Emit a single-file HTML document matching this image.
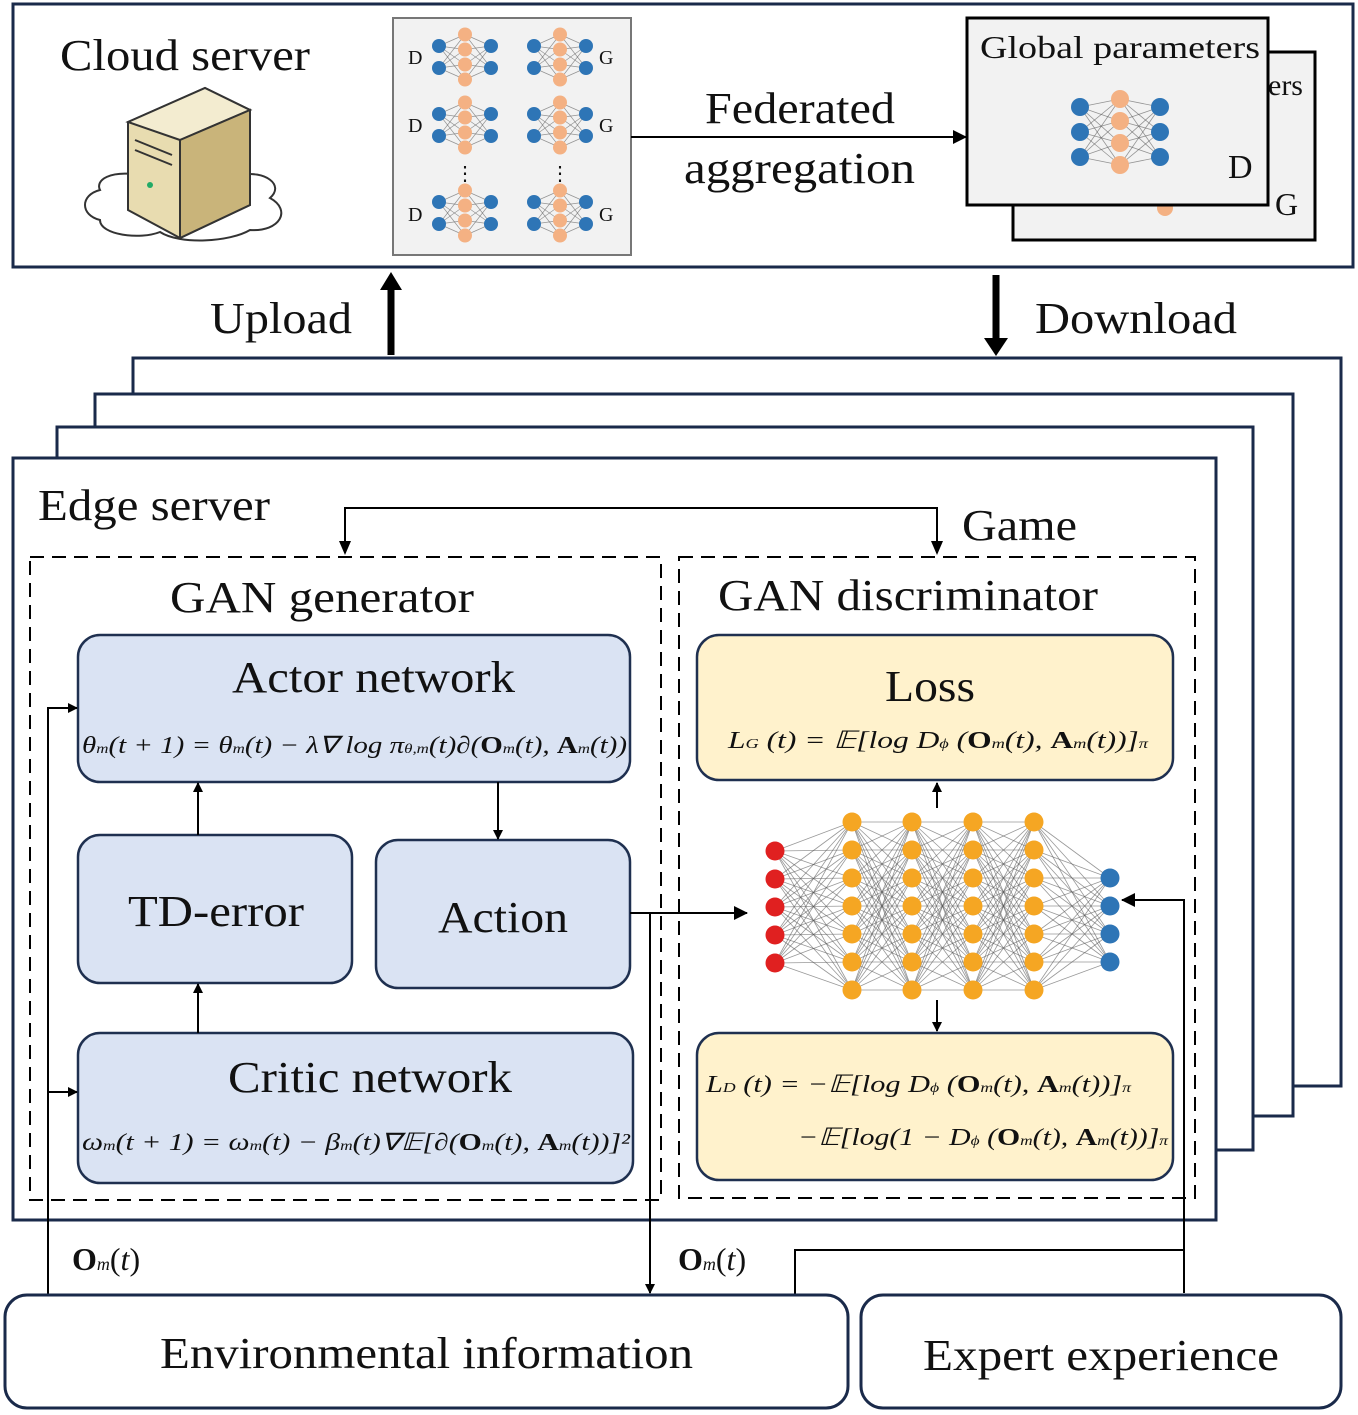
<!DOCTYPE html>
<html><head><meta charset="utf-8"><style>
html,body{margin:0;padding:0;background:#fff}
svg{display:block}
text{font-family:"Liberation Serif",serif;fill:#111}
</style></head><body>
<svg id="s" width="1358" height="1415" viewBox="0 0 1358 1415" xmlns="http://www.w3.org/2000/svg">
<defs>
<marker id="a" markerWidth="10" markerHeight="10" refX="9" refY="5" orient="auto" markerUnits="userSpaceOnUse"><path d="M0,0 L10,5 L0,10 z" fill="#000"/></marker>
<marker id="b" markerWidth="14" markerHeight="14" refX="13" refY="7" orient="auto" markerUnits="userSpaceOnUse"><path d="M0,0 L14,7 L0,14 z" fill="#000"/></marker>
</defs>
<rect x="13" y="4" width="1340" height="263" fill="#fff" stroke="#1a2a4a" stroke-width="3"/>
<text x="60" y="70" font-size="44" textLength="250" lengthAdjust="spacingAndGlyphs">Cloud server</text>
<path d="M100,190 C80,195 80,215 100,220 C100,235 140,240 160,232 C180,245 230,242 250,230 C280,232 292,210 270,198 C285,185 265,170 240,175 L140,175 C110,170 95,180 100,190 z" fill="#fff" stroke="#333" stroke-width="2"/>
<path d="M128,122 L205,88 L250,110 L250,205 L180,238 L128,210 z" fill="#e8dcb0" stroke="#333" stroke-width="2"/>
<path d="M128,122 L205,88 L250,110 L180,140 z" fill="#f3ecd0" stroke="#333" stroke-width="2"/>
<path d="M180,140 L250,110 L250,205 L180,238z" fill="#c9b47a" stroke="#333" stroke-width="2"/>
<circle cx="150" cy="185" r="3" fill="#2a6"/>
<line x1="135" y1="140" x2="172" y2="155" stroke="#333" stroke-width="2"/>
<line x1="135" y1="150" x2="172" y2="165" stroke="#333" stroke-width="2"/>
<rect x="393" y="18" width="238" height="237" fill="#f2f2f2" stroke="#777" stroke-width="2"/>
<g id="small"></g>
<text x="408" y="64" font-size="20">D</text><text x="408" y="132" font-size="20">D</text><text x="408" y="221" font-size="20">D</text>
<text x="599" y="64" font-size="20">G</text><text x="599" y="132" font-size="20">G</text><text x="599" y="221" font-size="20">G</text>
<text x="465" y="180" font-size="20" text-anchor="middle">⋮</text><text x="560" y="180" font-size="20" text-anchor="middle">⋮</text>
<line x1="631" y1="137" x2="966" y2="137" stroke="#000" stroke-width="2" marker-end="url(#b)"/>
<text x="705" y="123" font-size="44" textLength="190" lengthAdjust="spacingAndGlyphs">Federated</text>
<text x="684" y="183" font-size="44" textLength="231" lengthAdjust="spacingAndGlyphs">aggregation</text>
<rect x="1013" y="52" width="302" height="188" fill="#f2f2f2" stroke="#000" stroke-width="3"/>
<text x="1268" y="95" font-size="30">ers</text>
<text x="1275" y="215" font-size="32">G</text>
<circle cx="1165" cy="208" r="8" fill="#f4b183"/>
<rect x="967" y="18" width="301" height="187" fill="#f2f2f2" stroke="#000" stroke-width="3"/>
<text x="980" y="58" font-size="32" textLength="280" lengthAdjust="spacingAndGlyphs">Global parameters</text>
<text x="1228" y="178" font-size="34">D</text>
<g id="glob"></g>
<text x="210" y="333" font-size="44" textLength="142" lengthAdjust="spacingAndGlyphs">Upload</text>
<line x1="391" y1="355" x2="391" y2="282" stroke="#000" stroke-width="7"/>
<path d="M380,290 L391,272 L402,290z" fill="#000"/>
<line x1="996" y1="275" x2="996" y2="345" stroke="#000" stroke-width="7"/>
<path d="M984,338 L996,356 L1008,338z" fill="#000"/>
<text x="1035" y="333" font-size="44" textLength="202" lengthAdjust="spacingAndGlyphs">Download</text>
<rect x="133" y="358" width="1208" height="728" fill="#fff" stroke="#1a2a4a" stroke-width="3"/>
<rect x="95" y="394" width="1198" height="722" fill="#fff" stroke="#1a2a4a" stroke-width="3"/>
<rect x="57" y="427" width="1196" height="723" fill="#fff" stroke="#1a2a4a" stroke-width="3"/>
<rect x="13" y="458" width="1203" height="762" fill="#fff" stroke="#1a2a4a" stroke-width="3"/>
<text x="38" y="520" font-size="44" textLength="232" lengthAdjust="spacingAndGlyphs">Edge server</text>
<polyline points="345,553 345,508 937,508 937,553" fill="none" stroke="#000" stroke-width="2"/>
<path d="M339,541 L345,555 L351,541z M931,541 L937,555 L943,541z" fill="#000"/>
<text x="962" y="540" font-size="44" textLength="115" lengthAdjust="spacingAndGlyphs">Game</text>
<rect x="30" y="557" width="631" height="643" fill="none" stroke="#000" stroke-width="2" stroke-dasharray="14,8"/>
<rect x="679" y="557" width="516" height="641" fill="none" stroke="#000" stroke-width="2" stroke-dasharray="14,8"/>
<text x="170" y="612" font-size="44" textLength="304" lengthAdjust="spacingAndGlyphs">GAN generator</text>
<text x="718" y="610" font-size="44" textLength="380" lengthAdjust="spacingAndGlyphs">GAN discriminator</text>
<rect x="78" y="635" width="552" height="147" rx="22" fill="#dae3f3" stroke="#1f3050" stroke-width="2.5"/>
<text x="232" y="692" font-size="44" textLength="283" lengthAdjust="spacingAndGlyphs">Actor network</text>
<text x="82" y="753" font-size="24" font-style="italic" textLength="545" lengthAdjust="spacingAndGlyphs">θ<tspan font-size="14">m</tspan>(t + 1) = θ<tspan font-size="14">m</tspan>(t) − λ∇ log π<tspan font-size="14">θ,m</tspan>(t)∂(<tspan font-weight="bold" font-style="normal">O</tspan><tspan font-size="14">m</tspan>(t), <tspan font-weight="bold" font-style="normal">A</tspan><tspan font-size="14">m</tspan>(t))</text>
<rect x="78" y="835" width="274" height="148" rx="22" fill="#dae3f3" stroke="#1f3050" stroke-width="2.5"/>
<text x="128" y="926" font-size="44" textLength="176" lengthAdjust="spacingAndGlyphs">TD-error</text>
<rect x="376" y="840" width="254" height="148" rx="22" fill="#dae3f3" stroke="#1f3050" stroke-width="2.5"/>
<text x="438" y="932" font-size="44" textLength="130" lengthAdjust="spacingAndGlyphs">Action</text>
<rect x="78" y="1033" width="555" height="150" rx="22" fill="#dae3f3" stroke="#1f3050" stroke-width="2.5"/>
<text x="228" y="1092" font-size="44" textLength="284" lengthAdjust="spacingAndGlyphs">Critic network</text>
<text x="82" y="1150" font-size="24" font-style="italic" textLength="548" lengthAdjust="spacingAndGlyphs">ω<tspan font-size="14">m</tspan>(t + 1) = ω<tspan font-size="14">m</tspan>(t) − β<tspan font-size="14">m</tspan>(t)∇𝔼[∂(<tspan font-weight="bold" font-style="normal">O</tspan><tspan font-size="14">m</tspan>(t), <tspan font-weight="bold" font-style="normal">A</tspan><tspan font-size="14">m</tspan>(t))]²</text>
<line x1="198" y1="835" x2="198" y2="783" stroke="#000" stroke-width="2" marker-end="url(#a)"/>
<line x1="198" y1="1033" x2="198" y2="984" stroke="#000" stroke-width="2" marker-end="url(#a)"/>
<line x1="498" y1="782" x2="498" y2="839" stroke="#000" stroke-width="2" marker-end="url(#a)"/>
<polyline points="48,1295 48,708 77,708" fill="none" stroke="#000" stroke-width="2" marker-end="url(#a)"/>
<line x1="48" y1="1092" x2="77" y2="1092" stroke="#000" stroke-width="2" marker-end="url(#a)"/>
<line x1="630" y1="913" x2="747" y2="913" stroke="#000" stroke-width="2" marker-end="url(#b)"/>
<line x1="650" y1="913" x2="650" y2="1293" stroke="#000" stroke-width="2" marker-end="url(#a)"/>
<rect x="697" y="635" width="476" height="145" rx="22" fill="#fff2cc" stroke="#1f3050" stroke-width="2.5"/>
<text x="885" y="701" font-size="44" textLength="90" lengthAdjust="spacingAndGlyphs">Loss</text>
<text x="728" y="748" font-size="24" font-style="italic" textLength="420" lengthAdjust="spacingAndGlyphs">L<tspan font-size="14">G</tspan> (t) = 𝔼[log D<tspan font-size="14">ϕ</tspan> (<tspan font-weight="bold" font-style="normal">O</tspan><tspan font-size="14">m</tspan>(t), <tspan font-weight="bold" font-style="normal">A</tspan><tspan font-size="14">m</tspan>(t))]<tspan font-size="14">π</tspan></text>
<rect x="697" y="1033" width="476" height="147" rx="22" fill="#fff2cc" stroke="#1f3050" stroke-width="2.5"/>
<text x="706" y="1092" font-size="24" font-style="italic" textLength="425" lengthAdjust="spacingAndGlyphs">L<tspan font-size="14">D</tspan> (t) = −𝔼[log D<tspan font-size="14">ϕ</tspan> (<tspan font-weight="bold" font-style="normal">O</tspan><tspan font-size="14">m</tspan>(t), <tspan font-weight="bold" font-style="normal">A</tspan><tspan font-size="14">m</tspan>(t))]<tspan font-size="14">π</tspan></text>
<text x="798" y="1145" font-size="24" font-style="italic" textLength="370" lengthAdjust="spacingAndGlyphs">−𝔼[log(1 − D<tspan font-size="14">ϕ</tspan> (<tspan font-weight="bold" font-style="normal">O</tspan><tspan font-size="14">m</tspan>(t), <tspan font-weight="bold" font-style="normal">A</tspan><tspan font-size="14">m</tspan>(t))]<tspan font-size="14">π</tspan></text>
<line x1="937" y1="808" x2="937" y2="783" stroke="#000" stroke-width="2" marker-end="url(#a)"/>
<line x1="937" y1="1000" x2="937" y2="1031" stroke="#000" stroke-width="2" marker-end="url(#a)"/>
<g id="big"></g>
<polyline points="1184,1293 1184,900 1122,900" fill="none" stroke="#000" stroke-width="2" marker-end="url(#b)"/>
<polyline points="795,1295 795,1250 1184,1250" fill="none" stroke="#000" stroke-width="2"/>
<text x="72" y="1270" font-size="32"><tspan font-weight="bold">O</tspan><tspan font-size="18" font-style="italic">m</tspan>(<tspan font-style="italic">t</tspan>)</text>
<text x="678" y="1270" font-size="32"><tspan font-weight="bold">O</tspan><tspan font-size="18" font-style="italic">m</tspan>(<tspan font-style="italic">t</tspan>)</text>
<rect x="5" y="1295" width="843" height="113" rx="22" fill="#fff" stroke="#1a2a4a" stroke-width="3"/>
<text x="160" y="1368" font-size="44" textLength="533" lengthAdjust="spacingAndGlyphs">Environmental information</text>
<rect x="861" y="1295" width="480" height="113" rx="22" fill="#fff" stroke="#1a2a4a" stroke-width="3"/>
<text x="923" y="1370" font-size="44" textLength="356" lengthAdjust="spacingAndGlyphs">Expert experience</text>
</svg>
<script>
var NS="http://www.w3.org/2000/svg";
function net(g,layers,r,lw){
  var el=document.getElementById(g);
  for(var i=0;i<layers.length-1;i++){
    layers[i].pts.forEach(function(p){layers[i+1].pts.forEach(function(q){
      var l=document.createElementNS(NS,"line");
      l.setAttribute("x1",p[0]);l.setAttribute("y1",p[1]);l.setAttribute("x2",q[0]);l.setAttribute("y2",q[1]);
      l.setAttribute("stroke","#555");l.setAttribute("stroke-width",lw);l.setAttribute("opacity","0.6");el.appendChild(l);});});
  }
  layers.forEach(function(L){L.pts.forEach(function(p){
    var c=document.createElementNS(NS,"circle");c.setAttribute("cx",p[0]);c.setAttribute("cy",p[1]);c.setAttribute("r",r);
    c.setAttribute("fill",L.c);el.appendChild(c);});});
}
function col(x,yc,n,sp){var a=[];for(var i=0;i<n;i++)a.push([x,yc+(i-(n-1)/2)*sp]);return a;}
function smallNet(g,cx,cy){
  net(g,[{pts:col(cx-26,cy,2,22),c:"#2e75b6"},{pts:col(cx,cy,4,15),c:"#f4b183"},{pts:col(cx+26,cy,2,22),c:"#2e75b6"}],7,0.7);
}
[57,125,213].forEach(function(y){smallNet("small",465,y);smallNet("small",560,y);});
net("glob",[{pts:col(1080,132,3,25),c:"#2e75b6"},{pts:col(1120,132,4,22),c:"#f4b183"},{pts:col(1160,132,3,25),c:"#2e75b6"}],9,0.8);
net("big",[{pts:col(775,907,5,28),c:"#e02020"},{pts:col(852,906,7,28),c:"#f5a623"},{pts:col(912,906,7,28),c:"#f5a623"},{pts:col(973,906,7,28),c:"#f5a623"},{pts:col(1034,906,7,28),c:"#f5a623"},{pts:col(1110,920,4,28),c:"#2e75b6"}],9.5,0.8);
</script>
</body></html>
